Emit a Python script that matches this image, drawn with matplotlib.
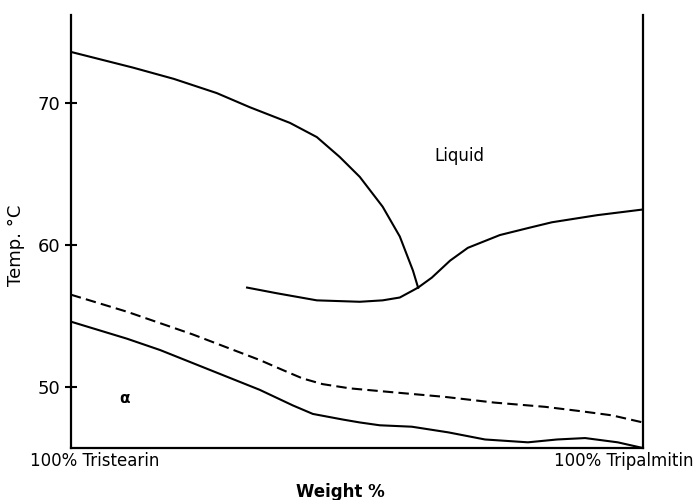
import matplotlib
matplotlib.use("Agg")
import matplotlib.pyplot as plt

# phase diagram tristearin / tripalmitin
liq_left_w = [0, 10.8, 18, 25.5, 31.3, 38.3, 43.0, 47.0, 50.5, 54.5, 57.5, 59.8, 60.7]
liq_left_t = [73.6, 72.5, 71.7, 70.7, 69.7, 68.6, 67.6, 66.2, 64.8, 62.7, 60.6, 58.2, 57.0]

liq_right_w = [60.7, 63.1, 66.3, 69.4, 75.0, 80.0, 84.1, 92.0, 100]
liq_right_t = [57.0, 57.7, 58.9, 59.8, 60.7, 61.2, 61.6, 62.1, 62.5]

sol_upper_w = [30.8, 36.0, 43.0, 50.5, 54.5, 57.5, 59.8, 60.7]
sol_upper_t = [57.0, 56.6, 56.1, 56.0, 56.1, 56.3, 56.8, 57.0]

dashed_w = [0, 9.8, 21.3, 33, 37, 40.5, 44, 48.8, 57, 65.4, 74, 82.9, 89, 94.6, 100]
dashed_t = [56.5, 55.3, 53.7, 51.9, 51.2, 50.6, 50.2, 49.9, 49.6, 49.3, 48.9,
            48.6, 48.3, 48.0, 47.5]

sol_lower_w = [0, 9.8, 15.6, 24.3, 33.0, 38.8, 42.3, 47.6, 50.5, 54, 59.6, 66,
               72.4, 79.9, 85, 89.9, 95.6, 100]
sol_lower_t = [54.6, 53.4, 52.6, 51.2, 49.8, 48.7, 48.1, 47.7, 47.5, 47.3, 47.2,
               46.8, 46.3, 46.1, 46.3, 46.4, 46.1, 45.7]

yticks = [50, 60, 70]

fig = plt.figure(figsize=(6.95, 5.0), dpi=100)
ax = fig.add_axes([0.102, 0.104, 0.823, 0.866])

lw = 1.5
ax.plot(liq_left_w, liq_left_t, color="black", lw=lw)
ax.plot(liq_right_w, liq_right_t, color="black", lw=lw)
ax.plot(sol_upper_w, sol_upper_t, color="black", lw=lw)
ax.plot(dashed_w, dashed_t, color="black", lw=lw, linestyle=(0, (5, 2.5)))
ax.plot(sol_lower_w, sol_lower_t, color="black", lw=lw)

ax.set_xlim(0, 100)
ax.set_ylim(45.7, 76.2)
ax.set_xticks([])
ax.set_yticks(yticks)
ax.tick_params(axis="y", direction="inout", length=8, width=1.5, labelsize=13)

ax.spines["top"].set_visible(False)
for s in ["left", "right", "bottom"]:
    ax.spines[s].set_linewidth(1.6)

ax.text(68, 66.3, "Liquid", fontsize=12, ha="center", va="center")
ax.text(9.3, 49.2, "α", fontsize=11, ha="center", va="center", fontweight="bold")

fig.text(30 / 695, 1 - 461 / 500, "100% Tristearin", fontsize=12, ha="left", va="center")
fig.text(694 / 695, 1 - 461 / 500, "100% Tripalmitin", fontsize=12, ha="right", va="center")
fig.text(340 / 695, 1 - 492 / 500, "Weight %", fontsize=12, ha="center", va="center",
         fontweight="bold")
fig.text(16 / 695, 1 - 245 / 500, "Temp. °C", fontsize=13, ha="center", va="center",
         rotation=90)

fig.savefig("out.png", dpi=100)
